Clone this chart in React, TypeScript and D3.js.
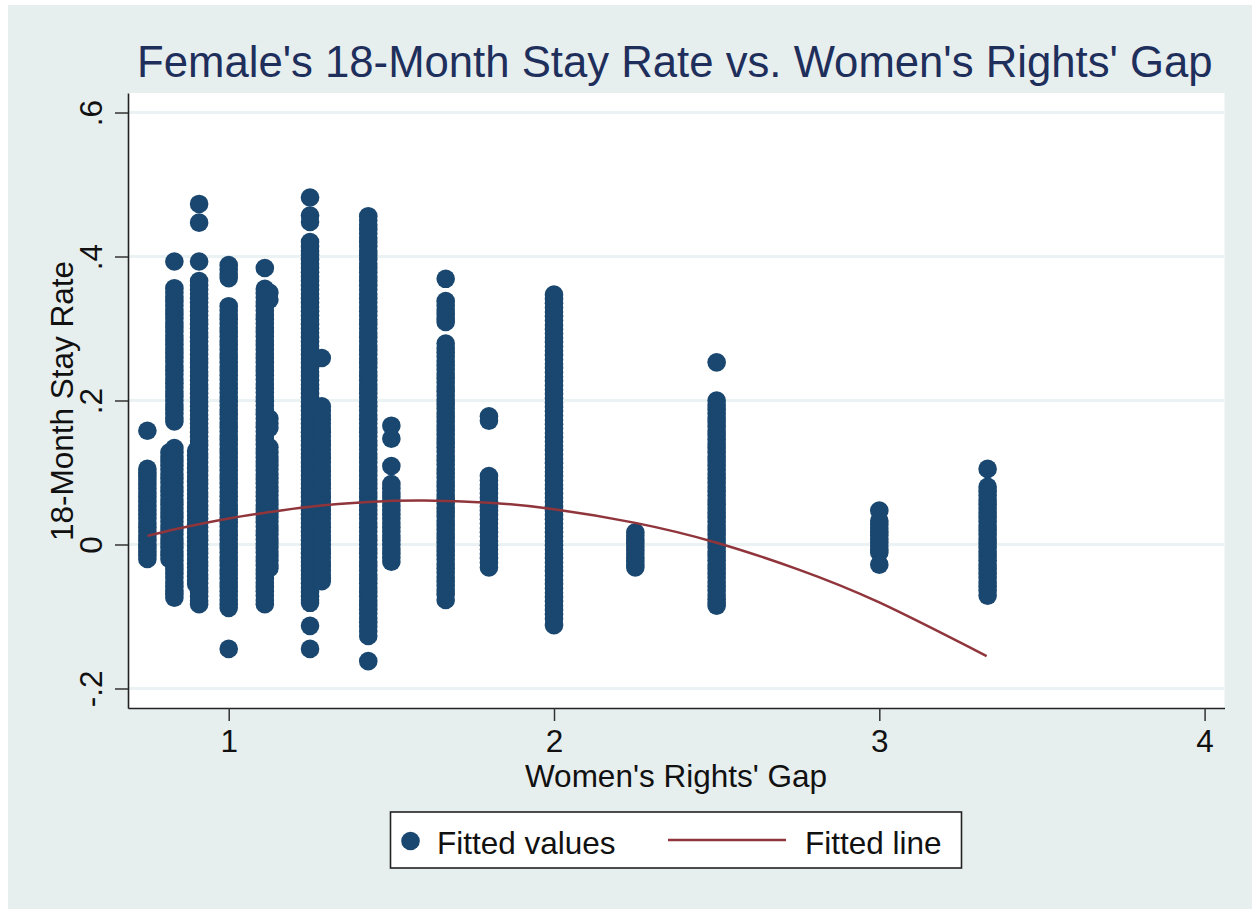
import React, { useEffect, useRef } from "react";
import * as d3 from "d3";

const titleText = "Female's 18-Month Stay Rate vs. Women's Rights' Gap";
const xAxisTitle = "Women's Rights' Gap";
const yAxisTitle = "18-Month Stay Rate";
const legendLabels = ["Fitted values", "Fitted line"];
const xTicks = [1, 2, 3, 4];
const yTicks = [-0.2, 0, 0.2, 0.4, 0.6];
const yTickLabels = ["-.2", "0", ".2", ".4", ".6"];

const gapValues = [0.75, 0.818, 0.833, 0.9, 0.909, 1, 1.111, 1.125, 1.25, 1.286, 1.429, 1.5, 1.667, 1.8, 2, 2.25, 2.5, 3, 3.333];

const y0750 = [.158, .105, .1, .095, .09, .084, .078, .072, .066, .06, .054, .048, .042, .036, .03, .024, .018, .012, .006, 0, -.005, -.01, -.015, -.02];
const y0818 = [.128, .122, .116, .11, .104, .098, .092, .086, .08, .074, .068, .062, .056, .05, .044, .038, .032, .026, .02, .014, .008, .002, -.004, -.01, -.015, -.02];
const y0833 = [.393, .356, .35, .344, .338, .332, .326, .32, .314, .308, .302, .296, .29, .284, .278, .272, .266, .26, .254, .248, .242, .236, .23, .224, .218, .212, .206, .2, .194, .188, .182, .176, .171, .134, .128, .122, .116, .11, .104, .098, .092, .086, .08, .074, .068, .062, .056, .05, .044, .038, .032, .026, .02, .014, .008, .002, -.004, -.01, -.016, -.022, -.028, -.034, -.04, -.046, -.052, -.058, -.064, -.069, -.074];
const y0900 = [.13, .124, .118, .112, .106, .1, .094, .088, .082, .076, .07, .064, .058, .052, .046, .04, .034, .028, .022, .016, .01, .004, -.002, -.008, -.014, -.02, -.026, -.032, -.038, -.044, -.05, -.055];
const y0909 = [.473, .447, .393, .366, .36, .354, .348, .342, .336, .33, .324, .318, .312, .306, .3, .294, .288, .282, .276, .27, .264, .258, .252, .246, .24, .234, .228, .222, .216, .21, .204, .198, .192, .186, .18, .174, .168, .162, .156, .15, .144, .138, .132, .126, .12, .114, .108, .102, .096, .09, .084, .078, .072, .066, .06, .054, .048, .042, .036, .03, .024, .018, .012, .006, 0, -.006, -.012, -.018, -.024, -.03, -.036, -.042, -.048, -.054, -.06, -.066, -.072, -.078, -.083];
const y1000 = [.388, .382, .376, .37, .331, .325, .319, .313, .307, .301, .295, .289, .283, .277, .271, .265, .259, .253, .247, .241, .235, .229, .223, .217, .211, .205, .199, .193, .187, .181, .175, .169, .163, .157, .151, .145, .139, .133, .127, .121, .115, .109, .103, .097, .091, .085, .079, .073, .067, .061, .055, .049, .043, .037, .031, .025, .019, .013, .007, .001, -.005, -.011, -.017, -.023, -.029, -.035, -.041, -.047, -.053, -.059, -.065, -.071, -.077, -.083, -.088, -.145];
const y1111 = [.384, .355, .349, .343, .337, .331, .325, .319, .313, .307, .301, .295, .289, .283, .277, .271, .265, .259, .253, .247, .241, .235, .229, .223, .217, .211, .205, .199, .193, .187, .181, .175, .169, .163, .157, .151, .145, .139, .133, .127, .121, .115, .109, .103, .097, .091, .085, .079, .073, .067, .061, .055, .049, .043, .037, .031, .025, .019, .013, .007, .001, -.005, -.011, -.017, -.023, -.029, -.035, -.041, -.047, -.053, -.059, -.065, -.071, -.077, -.083];
const y1125 = [.35, .34, .175, .168, .162, .135, .128, .122, .116, .11, .104, .098, .092, .086, .08, .074, .068, .062, .056, .05, .044, .038, .032, .026, .02, .014, .008, .002, -.004, -.01, -.016, -.022, -.028, -.033];
const y1250 = [.482, .457, .448, .42, .414, .408, .402, .396, .39, .384, .378, .372, .366, .36, .354, .348, .342, .336, .33, .324, .318, .312, .306, .3, .294, .288, .282, .276, .27, .264, .258, .252, .246, .24, .234, .228, .222, .216, .21, .204, .198, .192, .186, .18, .174, .168, .162, .156, .15, .144, .138, .132, .126, .12, .114, .108, .102, .096, .09, .084, .078, .072, .066, .06, .054, .048, .042, .036, .03, .024, .018, .012, .006, 0, -.006, -.012, -.018, -.024, -.03, -.036, -.042, -.048, -.054, -.06, -.066, -.072, -.077, -.081, -.113, -.145];
const y1286 = [.259, .192, .186, .18, .174, .168, .162, .156, .15, .144, .138, .132, .126, .12, .114, .108, .102, .096, .09, .084, .078, .072, .066, .06, .054, .048, .042, .036, .03, .024, .018, .012, .006, 0, -.006, -.012, -.018, -.024, -.03, -.036, -.042, -.047, -.051];
const y1429 = [.456, .45, .444, .438, .432, .426, .42, .414, .408, .402, .396, .39, .384, .378, .372, .366, .36, .354, .348, .342, .336, .33, .324, .318, .312, .306, .3, .294, .288, .282, .276, .27, .264, .258, .252, .246, .24, .234, .228, .222, .216, .21, .204, .198, .192, .186, .18, .174, .168, .162, .156, .15, .144, .138, .132, .126, .12, .114, .108, .102, .096, .09, .084, .078, .072, .066, .06, .054, .048, .042, .036, .03, .024, .018, .012, .006, 0, -.006, -.012, -.018, -.024, -.03, -.036, -.042, -.048, -.054, -.06, -.066, -.072, -.078, -.084, -.09, -.096, -.102, -.108, -.114, -.12, -.127, -.162];
const y1500 = [.165, .147, .109, .084, .078, .072, .066, .06, .054, .048, .042, .036, .03, .024, .018, .012, .006, 0, -.006, -.012, -.018, -.024];
const y1667 = [.369, .338, .332, .326, .32, .314, .309, .279, .273, .267, .261, .255, .249, .243, .237, .231, .225, .219, .213, .207, .201, .195, .189, .183, .177, .171, .165, .159, .153, .147, .141, .135, .129, .123, .117, .111, .105, .099, .093, .087, .081, .075, .069, .063, .057, .051, .045, .039, .033, .027, .021, .015, .009, .003, -.003, -.009, -.015, -.021, -.027, -.033, -.039, -.045, -.051, -.057, -.063, -.069, -.077];
const y1800 = [.178, .172, .095, .089, .083, .077, .071, .065, .059, .053, .047, .041, .035, .029, .023, .017, .011, .005, -.001, -.007, -.013, -.019, -.025, -.032];
const y2000 = [.347, .341, .335, .329, .323, .317, .311, .305, .299, .293, .287, .281, .275, .269, .263, .257, .251, .245, .239, .233, .227, .221, .215, .209, .203, .197, .191, .185, .179, .173, .167, .161, .155, .149, .143, .137, .131, .125, .119, .113, .107, .101, .095, .089, .083, .077, .071, .065, .059, .053, .047, .041, .035, .029, .023, .017, .011, .005, -.001, -.007, -.013, -.019, -.025, -.031, -.037, -.043, -.049, -.055, -.061, -.067, -.073, -.079, -.085, -.091, -.097, -.103, -.112];
const y2250 = [.017, .012, .007, .002, -.003, -.008, -.013, -.018, -.023, -.028, -.032];
const y2500 = [.253, .2, .194, .188, .182, .176, .17, .164, .158, .152, .146, .14, .134, .128, .122, .116, .11, .104, .098, .092, .086, .08, .074, .068, .062, .056, .05, .044, .038, .032, .026, .02, .014, .008, .002, -.004, -.01, -.016, -.022, -.028, -.034, -.04, -.046, -.052, -.058, -.064, -.07, -.076, -.081, -.085];
const y3000 = [.047, .033, .028, .023, .018, .013, .008, .003, -.002, -.007, -.011, -.028];
const y3333 = [.105, .08, .074, .068, .062, .056, .05, .044, .038, .032, .026, .02, .014, .008, .002, -.004, -.01, -.016, -.022, -.028, -.034, -.04, -.046, -.052, -.058, -.064, -.071];

const yColumns = [y0750, y0818, y0833, y0900, y0909, y1000, y1111, y1125, y1250, y1286, y1429, y1500, y1667, y1800, y2000, y2250, y2500, y3000, y3333];

const lineGap = [0.75, 0.85, 1, 1.125, 1.25, 1.43, 1.6, 1.8, 2, 2.25, 2.5, 2.75, 3, 3.33];
const lineRate = [.012, .0225, .036, .045, .0525, .059, .061, .058, .049, .03, .0025, -.0345, -.0805, -.155];

const FONT = "'Liberation Sans', Arial, Helvetica, sans-serif";
const NAVY = "#1a476f";
const RED = "#90353b";
const BG = "#e7eeee";
const GRID = "#eaf2f3";

const L = 128, R = 1224.5, T = 93, B = 708;

export default function App() {
  const xAxisRef = useRef<SVGGElement>(null);
  const yAxisRef = useRef<SVGGElement>(null);

  const x = d3.scaleLinear().domain([0.6904, 4.0612]).range([L, R]);
  const y = d3.scaleLinear().domain([-0.2271, 0.6271]).range([B, T]);

  useEffect(() => {
    const xa = d3.select(xAxisRef.current as SVGGElement);
    xa.call(d3.axisBottom(x).tickValues(xTicks).tickFormat((d) => String(d)).tickSize(13).tickSizeOuter(0) as any);
    xa.select(".domain").attr("stroke", "#222").attr("stroke-width", 1.6);
    xa.selectAll(".tick line").attr("stroke", "#333").attr("stroke-width", 1.5);
    xa.selectAll(".tick text").attr("font-family", FONT).attr("font-size", 31.5).attr("fill", "#111").attr("y", 22).attr("dy", "0.71em");

    const ya = d3.select(yAxisRef.current as SVGGElement);
    ya.call(d3.axisLeft(y).tickValues(yTicks).tickFormat((_, i) => yTickLabels[i]).tickSize(13).tickSizeOuter(0) as any);
    ya.select(".domain").attr("stroke", "#222").attr("stroke-width", 1.6);
    ya.selectAll(".tick line").attr("stroke", "#333").attr("stroke-width", 1.5);
    ya.selectAll(".tick text")
      .attr("font-family", FONT).attr("font-size", 31.5).attr("fill", "#111")
      .attr("x", 0).attr("dy", 0).attr("text-anchor", "middle")
      .attr("transform", "translate(-26,0) rotate(-90)");
  }, []);

  const line = d3.line<number>()
    .x((d) => x(d))
    .y((_, i) => y(lineRate[i]))
    .curve(d3.curveNatural);

  return (
    <svg width={1252} height={909} style={{ position: "absolute", left: 0, top: 0, display: "block" }}>
      <rect x={0} y={0} width={1252} height={909} fill="#ffffff" />
      <rect x={8} y={5} width={1244} height={904} fill={BG} />
      <rect x={L} y={T} width={R - L} height={B - T} fill="#ffffff" />
      {yTicks.map((t) => (
        <line key={t} x1={L} x2={R} y1={y(t)} y2={y(t)} stroke={GRID} strokeWidth={3} />
      ))}
      <g fill={NAVY}>
        {yColumns.map((col, i) =>
          col.map((v, j) => <circle key={`${i}-${j}`} cx={x(gapValues[i])} cy={y(v)} r={9.3} />)
        )}
      </g>
      <path d={line(lineGap) as string} fill="none" stroke={RED} strokeWidth={2.5} />
      <g ref={xAxisRef} transform={`translate(0,${B})`} />
      <g ref={yAxisRef} transform={`translate(${L},0)`} />
      <text x={137} y={77} fontFamily={FONT} fontSize={43.7} fill="#1f2f5c">{titleText}</text>
      <text x={676} y={787} textAnchor="middle" fontFamily={FONT} fontSize={31.5} fill="#111">{xAxisTitle}</text>
      <text transform="translate(73,401) rotate(-90)" textAnchor="middle" fontFamily={FONT} fontSize={31.5} fill="#111">{yAxisTitle}</text>
      <rect x={390.5} y={812} width={571} height={56} fill="#ffffff" stroke="#222" strokeWidth={1.6} />
      <circle cx={410.5} cy={841} r={9.3} fill={NAVY} />
      <text x={437} y={854} fontFamily={FONT} fontSize={31.5} fill="#111">{legendLabels[0]}</text>
      <line x1={668} x2={786} y1={840} y2={840} stroke={RED} strokeWidth={2.5} />
      <text x={805} y={854} fontFamily={FONT} fontSize={31.5} fill="#111">{legendLabels[1]}</text>
    </svg>
  );
}
